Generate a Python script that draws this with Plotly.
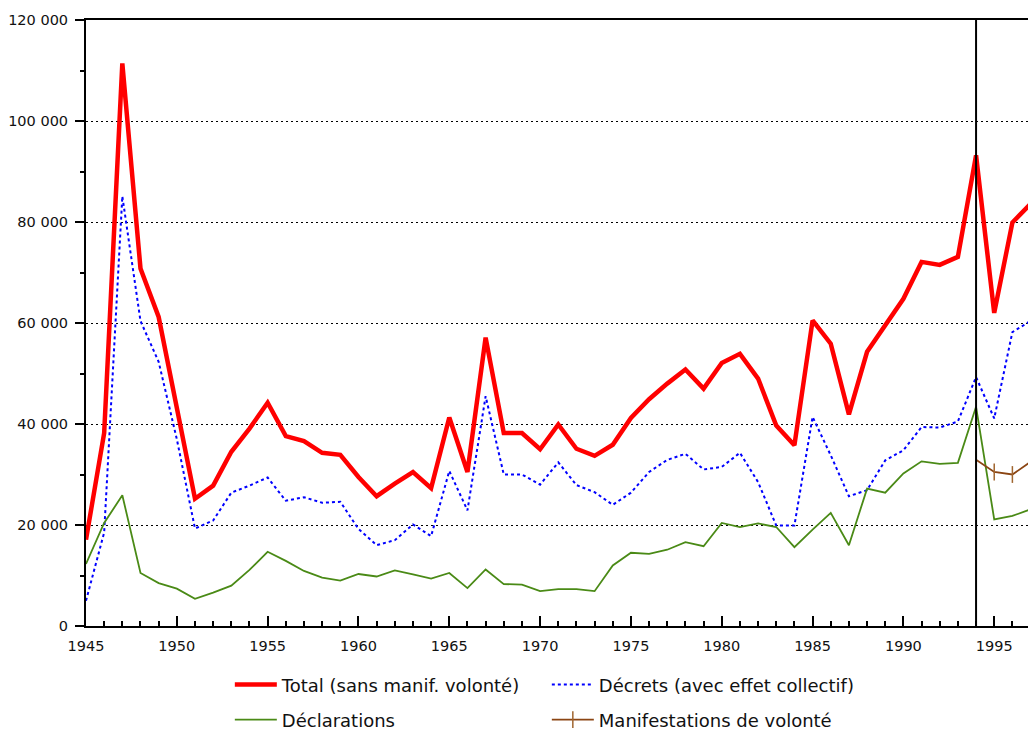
import plotly.graph_objects as go

years = list(range(1945, 1998))

total = [17.1, 38.2, 111.4, 70.8, 61.2, 43.0, 25.2, 27.8, 34.5, 39.1,
         44.2, 37.6, 36.6, 34.3, 33.9, 29.5, 25.7, 28.2, 30.5, 27.3,
         41.3, 30.5, 57.1, 38.2, 38.2, 35.0, 39.9, 35.1, 33.7, 35.9,
         41.2, 44.9, 48.0, 50.8, 47.0, 52.1, 53.9, 49.0, 39.7, 35.8,
         60.5, 55.9, 41.9, 54.3, 59.5, 64.8, 72.1, 71.5, 73.1, 93.2,
         62.0, 79.9, 83.6]

decrets = [5.0, 18.5, 85.1, 60.4, 52.3, 37.0, 19.3, 20.9, 26.4, 27.8,
           29.4, 24.8, 25.5, 24.4, 24.6, 19.2, 16.0, 17.0, 20.1, 17.8,
           30.7, 22.9, 45.5, 30.0, 30.0, 28.0, 32.4, 27.9, 26.5, 24.0,
           26.4, 30.5, 32.9, 34.1, 31.0, 31.5, 34.3, 28.5, 19.9, 19.9,
           41.4, 33.8, 25.7, 26.9, 32.8, 34.8, 39.4, 39.3, 40.5, 49.3,
           41.1, 58.2, 60.4]

declarations = [12.3, 20.4, 25.9, 10.5, 8.5, 7.4, 5.4, 6.6, 8.0, 11.1,
                14.7, 12.9, 10.9, 9.6, 9.0, 10.3, 9.8, 11.0, 10.2, 9.4,
                10.5, 7.5, 11.2, 8.3, 8.2, 6.9, 7.3, 7.3, 6.9, 12.0,
                14.5, 14.3, 15.1, 16.6, 15.8, 20.4, 19.6, 20.3, 19.6, 15.6,
                19.1, 22.4, 16.0, 27.2, 26.4, 30.2, 32.6, 32.1, 32.3, 43.4,
                21.1, 21.8, 23.1]

manif_years = [1994, 1995, 1996, 1997]
manifestations = [32.9, 30.5, 30.0, 32.5]

break_year = 1994

to_units = lambda v: [round(x * 1000) for x in v]

FONT = "DejaVu Sans, Liberation Sans, Arial, sans-serif"

fig = go.Figure()
fig.add_trace(go.Scatter(x=years, y=to_units(total), mode="lines",
                         name="Total (sans manif. volonté)",
                         line=dict(color="#ff0000", width=4.5), legend="legend"))
fig.add_trace(go.Scatter(x=years, y=to_units(decrets), mode="lines",
                         name="Décrets (avec effet collectif)",
                         line=dict(color="#0000ff", width=2, dash="dot"), legend="legend"))
fig.add_trace(go.Scatter(x=years, y=to_units(declarations), mode="lines",
                         name="Déclarations",
                         line=dict(color="#4a8a16", width=1.8), legend="legend2"))
fig.add_trace(go.Scatter(x=manif_years, y=to_units(manifestations), mode="lines+markers",
                         name="Manifestations de volonté",
                         line=dict(color="#8b4513", width=1.8),
                         marker=dict(symbol="line-ns", size=12,
                                     line=dict(color="#a0652f", width=1.5)),
                         legend="legend2"))

fig.add_vline(x=break_year, line=dict(color="black", width=2))

fig.update_layout(
    width=1028, height=745,
    margin=dict(l=78, r=0, t=12, b=127),
    paper_bgcolor="white", plot_bgcolor="white",
    separators=", ",
    font=dict(family=FONT, size=14, color="#111"),
    xaxis=dict(range=[1945, 1997.3], dtick=5, tick0=1945,
               ticks="inside", ticklen=10, tickwidth=1.5, tickcolor="black",
               showline=True, linecolor="black", linewidth=2, mirror=True,
               showgrid=False, zeroline=False, ticklabelstandoff=6,
               minor=dict(dtick=1, ticks="inside", ticklen=5, tickwidth=1.5,
                          tickcolor="black", showgrid=False),
               tickfont=dict(size=14.5, family=FONT, color="#111")),
    yaxis=dict(range=[0, 120000], dtick=20000, tickformat=",d",
               ticks="outside", ticklen=9, tickwidth=1.5, tickcolor="black",
               showline=True, linecolor="black", linewidth=2,
               showgrid=True, gridcolor="black", gridwidth=1.3, griddash="2px,3px",
               zeroline=False, ticklabelstandoff=4,
               minor=dict(dtick=10000, ticks="outside", ticklen=4, tickwidth=1.5,
                          tickcolor="black", showgrid=False),
               tickfont=dict(size=14.5, family=FONT, color="#111")),
    legend=dict(orientation="h", x=0.1514, y=-0.097, xanchor="left", yanchor="middle",
                font=dict(size=18, family=FONT, color="#111"),
                entrywidth=260, entrywidthmode="pixels", itemwidth=42,
                bgcolor="rgba(0,0,0,0)", tracegroupgap=0),
    legend2=dict(orientation="h", x=0.1514, y=-0.155, xanchor="left", yanchor="middle",
                 font=dict(size=18, family=FONT, color="#111"),
                 entrywidth=260, entrywidthmode="pixels", itemwidth=42,
                 bgcolor="rgba(0,0,0,0)", tracegroupgap=0),
)

fig.write_html("out.html")
